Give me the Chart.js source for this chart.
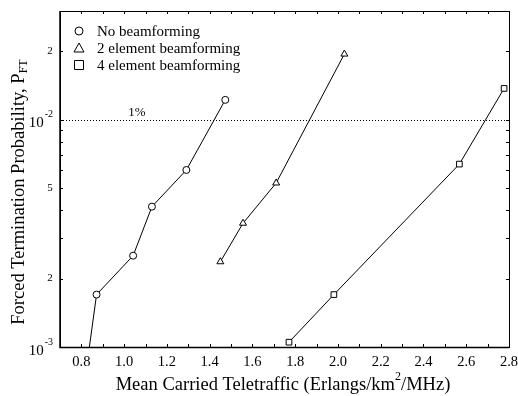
<!DOCTYPE html>
<html><head><meta charset="utf-8">
<script src="https://cdn.jsdelivr.net/npm/chart.js@4/dist/chart.umd.min.js"></script>
<style>html,body{margin:0;padding:0;background:#fff}#wrap{width:518px;height:396px}</style>
</head><body><div id="wrap"><canvas id="c" width="518" height="396"></canvas></div>
<script>
const seriesNames = ['No beamforming', '2 element beamforming', '4 element beamforming'];
const noBfX = [0.83, 0.871, 1.042, 1.130, 1.291, 1.473];
const noBfY = [0.00089, 0.00170, 0.00252, 0.00414, 0.0060, 0.0122];
const twoElX = [1.450, 1.556, 1.711, 2.030];
const twoElY = [0.00237, 0.00350, 0.00526, 0.0194];
const fourElX = [1.771, 1.981, 2.568, 2.777];
const fourElY = [0.00105, 0.00170, 0.00637, 0.0137];
const xTickValues = [0.8, 1.0, 1.2, 1.4, 1.6, 1.8, 2.0, 2.2, 2.4, 2.6, 2.8];
const xTickLabels = ['0.8', '1.0', '1.2', '1.4', '1.6', '1.8', '2.0', '2.2', '2.4', '2.6', '2.8'];
const yTickValues = [0.001, 0.002, 0.005, 0.01, 0.02];
const yTickBase = ['10', '2', '5', '10', '2'];
const yTickExp = ['-3', '', '', '-2', ''];
const refLevel = 0.01;
const refLabel = '1%';
const xTitle = ['Mean Carried Teletraffic (Erlangs/km', '2', '/MHz)'];
const yTitle = ['Forced Termination Probability, P', 'FT'];

const markerStyles = ['circle', 'triangle', 'rect'];
const markerRadius = [3.5, 4, 4];
function pts(xs, ys) { return xs.map((x, i) => ({x: x, y: ys[i]})); }
const FONT = '"Liberation Serif", "Times New Roman", serif';
const TITLE_PX = 18.5, SUP_PX = 12;

const decor = {
  id: 'decor',
  beforeDatasetsDraw(chart) {
    const ctx = chart.ctx, a = chart.chartArea, xs = chart.scales.x, ys = chart.scales.y;
    const yy = Math.round(ys.getPixelForValue(refLevel)) + 0.5;
    ctx.save();
    ctx.strokeStyle = '#000'; ctx.lineWidth = 1; ctx.setLineDash([1, 2]);
    ctx.beginPath(); ctx.moveTo(a.left, yy); ctx.lineTo(a.right, yy); ctx.stroke();
    ctx.setLineDash([]);
    ctx.fillStyle = '#000'; ctx.font = '13px ' + FONT; ctx.textAlign = 'center'; ctx.textBaseline = 'bottom';
    ctx.fillText(refLabel, xs.getPixelForValue(1.06), yy - 1);
    ctx.restore();
  },
  afterDraw(chart) {
    const ctx = chart.ctx, a = chart.chartArea, xs = chart.scales.x, ys = chart.scales.y;
    ctx.save();
    ctx.strokeStyle = '#000'; ctx.fillStyle = '#000';
    // frame
    ctx.lineWidth = 1;
    ctx.strokeRect(Math.round(a.left) + 0.5, Math.round(a.top) + 0.5, Math.round(a.right - a.left), Math.round(a.bottom - a.top));
    ctx.lineWidth = 1.5;
    ctx.beginPath(); ctx.moveTo(a.left, a.top); ctx.lineTo(a.left, a.bottom + 0.5); ctx.lineTo(a.right, a.bottom + 0.5); ctx.stroke();
    // x ticks every 0.1
    ctx.lineWidth = 1;
    for (let v = 0.7; v <= 2.8001; v += 0.1) {
      const px = Math.round(xs.getPixelForValue(v)) + 0.5;
      ctx.beginPath(); ctx.moveTo(px, a.bottom); ctx.lineTo(px, a.bottom - 3);
      ctx.moveTo(px, a.top); ctx.lineTo(px, a.top + 3); ctx.stroke();
    }
    // y ticks at each integer multiple
    for (const dec of [0.001, 0.01]) {
      for (let m = 1; m <= 9; m++) {
        const v = m * dec;
        if (v > ys.max + 1e-12) break;
        const py = Math.round(ys.getPixelForValue(v)) + 0.5;
        ctx.beginPath(); ctx.moveTo(a.left, py); ctx.lineTo(a.left + 3, py);
        ctx.moveTo(a.right, py); ctx.lineTo(a.right - 3, py); ctx.stroke();
      }
    }
    // x tick labels
    ctx.font = '14.5px ' + FONT; ctx.textAlign = 'center'; ctx.textBaseline = 'middle';
    xTickValues.forEach((v, i) => ctx.fillText(xTickLabels[i], xs.getPixelForValue(v), 362));
    // y tick labels
    yTickValues.forEach((v, i) => {
      const py = ys.getPixelForValue(v);
      if (yTickExp[i]) {
        ctx.font = '10px ' + FONT; ctx.textAlign = 'right'; ctx.textBaseline = 'middle';
        ctx.fillText(yTickExp[i], 53, py - 5);
        const w = ctx.measureText(yTickExp[i]).width;
        ctx.font = '15px ' + FONT; ctx.fillText(yTickBase[i], 53 - w - 1, py + 4);
      } else {
        ctx.font = '11px ' + FONT; ctx.textAlign = 'center'; ctx.textBaseline = 'middle';
        ctx.fillText(yTickBase[i], 50, py);
      }
    });
    // x title
    ctx.font = TITLE_PX + 'px ' + FONT; ctx.textBaseline = 'alphabetic'; ctx.textAlign = 'left';
    const w0 = ctx.measureText(xTitle[0]).width;
    ctx.font = SUP_PX + 'px ' + FONT; const w1 = ctx.measureText(xTitle[1]).width;
    ctx.font = TITLE_PX + 'px ' + FONT; const w2 = ctx.measureText(xTitle[2]).width;
    const cx = 283;
    let sx = cx - (w0 + w1 + w2) / 2;
    const by = 390;
    ctx.fillText(xTitle[0], sx, by);
    ctx.font = SUP_PX + 'px ' + FONT; ctx.fillText(xTitle[1], sx + w0, by - 10);
    ctx.font = TITLE_PX + 'px ' + FONT; ctx.fillText(xTitle[2], sx + w0 + w1, by);
    // y title
    ctx.save();
    ctx.translate(24, 192);
    ctx.rotate(-Math.PI / 2);
    ctx.font = TITLE_PX + 'px ' + FONT; const t0 = ctx.measureText(yTitle[0]).width;
    ctx.font = SUP_PX + 'px ' + FONT; const t1 = ctx.measureText(yTitle[1]).width;
    let ty = -(t0 + t1) / 2;
    ctx.font = TITLE_PX + 'px ' + FONT; ctx.fillText(yTitle[0], ty, 0);
    ctx.font = SUP_PX + 'px ' + FONT; ctx.fillText(yTitle[1], ty + t0, 3);
    ctx.restore();
    // legend
    const rows = [31, 48, 65];
    ctx.lineWidth = 1;
    seriesNames.forEach((n, i) => {
      const mx = 79, my = rows[i];
      ctx.beginPath();
      if (i === 0) ctx.arc(mx, my, 4, 0, Math.PI * 2);
      else if (i === 1) { ctx.moveTo(mx, my - 5); ctx.lineTo(mx + 5, my + 4); ctx.lineTo(mx - 5, my + 4); ctx.closePath(); }
      else ctx.rect(mx - 4.5, my - 4.5, 9, 9);
      ctx.stroke();
      ctx.font = '15px ' + FONT; ctx.textAlign = 'left'; ctx.textBaseline = 'middle';
      ctx.fillText(n, 97, my + 1);
    });
    ctx.restore();
  }
};

const dsCommon = {borderColor: '#000', borderWidth: 1, pointBackgroundColor: '#fff', pointBorderColor: '#000', pointBorderWidth: 1, showLine: true, tension: 0, fill: false};
new Chart(document.getElementById('c'), {
  type: 'scatter',
  data: {datasets: [
    Object.assign({label: seriesNames[0], data: pts(noBfX, noBfY), pointStyle: markerStyles[0], pointRadius: markerRadius[0]}, dsCommon),
    Object.assign({label: seriesNames[1], data: pts(twoElX, twoElY), pointStyle: markerStyles[1], pointRadius: markerRadius[1]}, dsCommon),
    Object.assign({label: seriesNames[2], data: pts(fourElX, fourElY), pointStyle: markerStyles[2], pointRadius: markerRadius[2]}, dsCommon)
  ]},
  options: {
    responsive: false, animation: false, devicePixelRatio: 1,
    layout: {padding: {top: 11, right: 9, left: 0, bottom: 0}},
    plugins: {legend: {display: false}, tooltip: {enabled: false}},
    scales: {
      x: {type: 'linear', min: 0.7, max: 2.8, ticks: {display: false}, grid: {display: false}, border: {display: false},
          afterFit(s) { s.height = 49; }},
      y: {type: 'logarithmic', min: 0.001, max: 0.03, ticks: {display: false}, grid: {display: false}, border: {display: false},
          afterFit(s) { s.width = 60; }}
    }
  },
  plugins: [decor]
});
</script>
</body></html>
